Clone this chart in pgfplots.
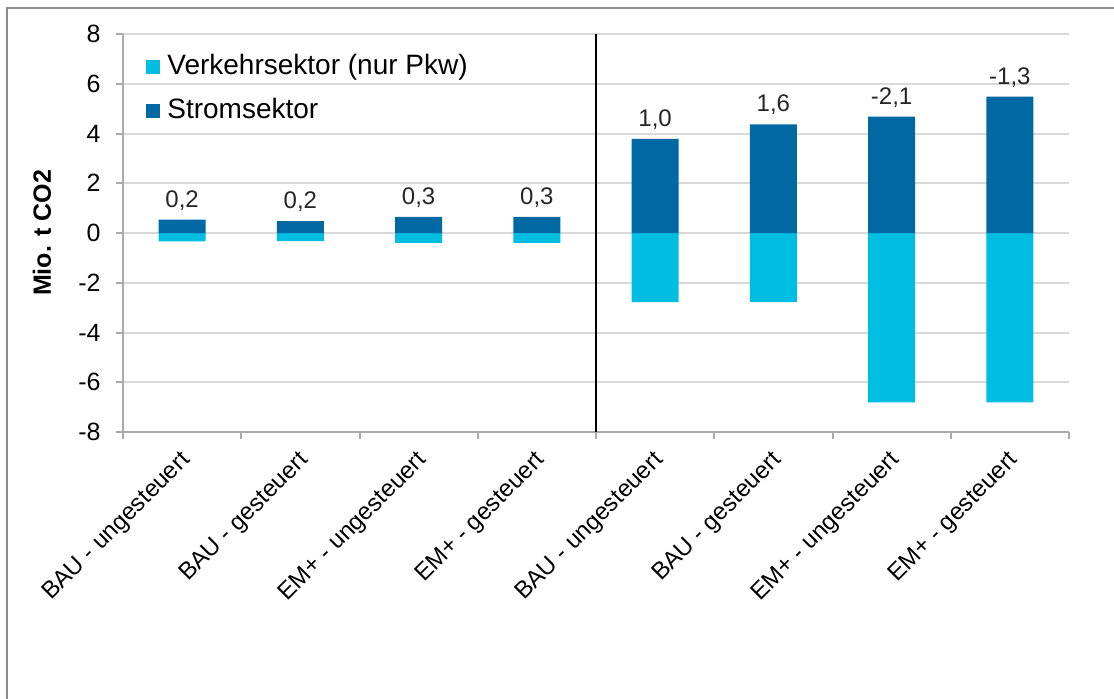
\documentclass[border=0pt]{standalone}
\usepackage{fontspec}
\setmainfont{Liberation Sans}
\usepackage{pgfplots}
\usepackage{pgfplotstable}
\pgfplotsset{compat=1.18}
\definecolor{strom}{RGB}{0,104,163}
\definecolor{verk}{RGB}{0,190,226}
\definecolor{gridc}{RGB}{217,217,217}
\definecolor{axc}{RGB}{170,170,170}
\definecolor{framec}{RGB}{140,140,140}

\pgfplotstableread{
x verk strom lab
0 -0.34 0.54 0,2
1 -0.33 0.48 0,2
2 -0.40 0.65 0,3
3 -0.40 0.65 0,3
4 -2.78 3.78 1,0
5 -2.78 4.37 1,6
6 -6.81 4.68 -2,1
7 -6.81 5.48 -1,3
}\datatab

\begin{document}
\begin{tikzpicture}
\useasboundingbox (0,0) rectangle (557pt,349pt);
\draw[color=framec, line width=1pt] (3.5pt,-2pt) -- (3.5pt,345pt) -- (560pt,345pt);
\begin{axis}[
  at={(61.5pt,133pt)}, anchor=south west,
  scale only axis, width=473pt, height=199pt,
  ymin=-8, ymax=8, ytick={-8,-6,...,8},
  xmin=-0.5, xmax=7.5,
  xtick={-0.5,0.5,...,7.5}, xticklabels={},
  extra x ticks={0,1,2,3,4,5,6,7},
  extra x tick labels={BAU - ungesteuert, BAU - gesteuert, EM+ - ungesteuert, EM+ - gesteuert, BAU - ungesteuert, BAU - gesteuert, EM+ - ungesteuert, EM+ - gesteuert},
  extra x tick style={major tick length=0pt},
  axis x line=bottom, axis y line=left,
  axis line style={-, draw=axc, line width=1pt},
  ymajorgrids, grid style={gridc, line width=1pt},
  tick align=outside, major tick length=3.5pt,
  tick style={axc, line width=1pt},
  /pgf/number format/assume math mode=true,
  tick label style={font=\fontsize{12.5}{14}\selectfont},
  yticklabel style={anchor=east, inner sep=0pt, xshift=-7.5pt},
  xticklabel style={xshift=-1.5pt, yshift=-8.5pt, rotate=45, anchor=north east, inner sep=0pt, font=\fontsize{12}{14}\selectfont},
  ylabel={\textbf{Mio. t CO2}},
  ylabel style={at={(axis description cs:-0.0856,0.5)}, anchor=center, font=\fontsize{12.5}{14}\selectfont},
  legend style={at={(axis description cs:0.0243,0.947)}, anchor=north west, draw=none, fill=none,
    inner sep=0pt, row sep=10pt, column sep=3.5pt,
    nodes={inner sep=0pt, text height=9.5pt, text depth=2.5pt},
    font=\fontsize{14}{16}\selectfont},
  legend cell align=left,
  legend image code/.code={\fill[#1] (0pt,-3.5pt) rectangle (7pt,3.5pt);},
]
\addplot[ybar, bar width=23.5pt, bar shift=0pt, fill=verk, draw=none] table[x=x, y=verk] {\datatab};
\addlegendentry{Verkehrsektor (nur Pkw)}
\addplot[ybar, bar width=23.5pt, bar shift=0pt, fill=strom, draw=none,
  nodes near coords={\pgfplotspointmeta}, point meta=explicit symbolic,
  nodes near coords style={font=\fontsize{12}{14}\selectfont, anchor=south, inner sep=0pt, yshift=4.5pt, text=black!85}]
  table[x=x, y=strom, meta=lab] {\datatab};
\addlegendentry{Stromsektor}
\draw[black, line width=1pt] (axis cs:3.5,-8) -- (axis cs:3.5,8);
\end{axis}
\end{tikzpicture}
\end{document}
